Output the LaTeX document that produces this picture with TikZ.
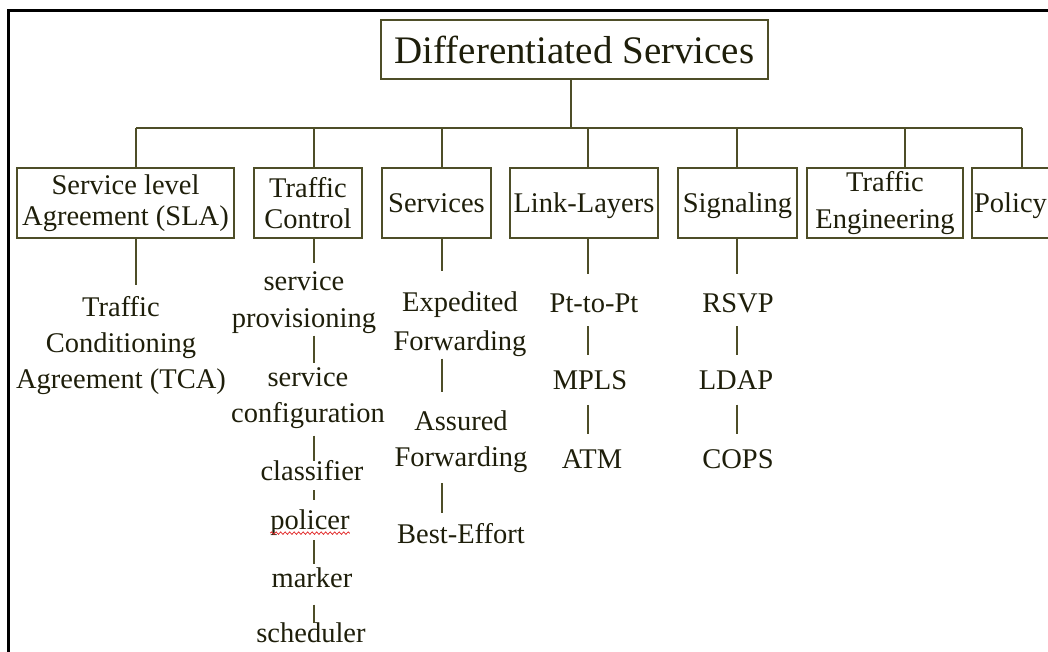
\documentclass[tikz,border=0pt]{standalone}
\usepackage{fontspec}
\setmainfont{Liberation Serif}
\usetikzlibrary{decorations.pathmorphing}
\definecolor{ink}{RGB}{30,30,10}
\definecolor{rule}{RGB}{78,78,40}
\definecolor{spell}{RGB}{225,40,40}

\begin{document}
\begin{tikzpicture}[x=1pt,y=-1pt,
  box/.style={draw=rule, line width=1.8pt, text=ink, inner sep=0pt, align=center,
    minimum height=70pt, font=\fontsize{28.5}{31}\selectfont},
  oneline/.style={text height=19pt, text depth=0pt},
  leaf/.style={text=ink, inner sep=0pt, align=center, font=\fontsize{28.5}{37}\selectfont},
  link/.style={draw=rule, line width=1.8pt},
  frame/.style={draw=black, line width=3pt}]

\useasboundingbox (0,0) rectangle (1048,652);
\clip (0,0) rectangle (1048,652);

% outer frame (top and left edges)
\draw[frame] (8,652) -- (8,11) -- (1060,11);

% root
\node[box, minimum width=387pt, minimum height=59pt, font=\fontsize{39}{41}\selectfont]
  (root) at (574.5,49.5) {Differentiated Services};

% second level boxes
\node[box, minimum width=217pt] (sla) at (125.5,203) {Service level\\Agreement (SLA)};
\node[box, minimum width=108pt] (tc)  at (308,203)   {Traffic\\Control};
\node[box, oneline, minimum width=109pt] (svc) at (436.5,203) {Services};
\node[box, oneline, minimum width=148pt] (ll)  at (584,203)   {Link-Layers};
\node[box, oneline, minimum width=119pt] (sig) at (737.5,203) {Signaling};
\node[box, minimum width=156pt, font=\fontsize{28.5}{37}\selectfont] (te) at (885,203) {Traffic\\Engineering};
\node[box, oneline, minimum width=77pt]  (pol) at (1010.5,203) {Policy};

% bus and drops
\coordinate (j0)   at (571,128);
\coordinate (bsla) at (136,128);
\coordinate (btc)  at (314,128);
\coordinate (bsvc) at (442,128);
\coordinate (bll)  at (588,128);
\coordinate (bsig) at (737,128);
\coordinate (bte)  at (905,128);
\coordinate (bpol) at (1022,128);

\draw[link] (root.south -| j0) -- (j0);
\draw[link] (bsla) -- (bpol);
\foreach \b/\n in {bsla/sla, btc/tc, bsvc/svc, bll/ll, bsig/sig, bte/te, bpol/pol}
  \draw[link] (\b) -- (\b |- \n.north);

% SLA column
\node[leaf, font=\fontsize{28.5}{36}\selectfont] (tca) at (121,346) {Traffic\\Conditioning\\Agreement (TCA)};
\draw[link, shorten >=12pt] (sla.south -| bsla) -- (bsla |- tca.north);

% Traffic Control column
\node[leaf] (sp)  at (304,302.5) {service\\provisioning};
\node[leaf, font=\fontsize{28.5}{36}\selectfont] (sc)  at (308,398) {service\\configuration};
\node[leaf] (cls) at (312,471)   {classifier};
\node[leaf] (plc) at (310,523)   {policer};
\node[leaf] (mkr) at (312,577.5) {marker};
\node[leaf] (sch) at (311,633)   {scheduler};
\draw[spell, line width=0.8pt, decorate, decoration={snake, amplitude=1.2pt, segment length=4.5pt}]
  ([yshift=3pt]plc.south west) -- ([yshift=3pt]plc.south east);

\draw[link, shorten >=8pt] (tc.south -| btc) -- (btc |- sp.north);
\draw[link, shorten <=2pt, shorten >=4pt] (btc |- sp.south) -- (btc |- sc.north);
\draw[link, shorten <=7pt, shorten >=0pt] (btc |- sc.south) -- (btc |- cls.north);
\draw[link, shorten <=9pt, shorten >=10pt] (btc |- cls.south) -- (btc |- plc.north);
\draw[link, shorten <=4pt, shorten >=3pt] (btc |- plc.south) -- (btc |- mkr.north);
\draw[link, shorten <=17pt, shorten >=0pt] (btc |- mkr.south) -- (btc |- sch.north);

% Services column
\node[leaf, font=\fontsize{28.5}{39}\selectfont] (ef) at (460,324) {Expedited\\Forwarding};
\node[leaf, font=\fontsize{28.5}{36}\selectfont] (af) at (461,442) {Assured\\Forwarding};
\node[leaf] (be) at (461,534) {Best-Effort};
\draw[link, shorten >=20pt] (svc.south -| bsvc) -- (bsvc |- ef.north);
\draw[link, shorten <=2pt, shorten >=19pt] (bsvc |- ef.south) -- (bsvc |- af.north);
\draw[link, shorten <=10pt, shorten >=11pt] (bsvc |- af.south) -- (bsvc |- be.north);

% Link-Layers column
\node[leaf] (ptp)  at (594,303.5) {Pt-to-Pt};
\node[leaf] (mpls) at (590,380)   {MPLS};
\node[leaf] (atm)  at (592,459)   {ATM};
\draw[link, shorten >=20pt] (ll.south -| bll) -- (bll |- ptp.north);
\draw[link, shorten <=13pt, shorten >=15pt] (bll |- ptp.south) -- (bll |- mpls.north);
\draw[link, shorten <=15pt, shorten >=15pt] (bll |- mpls.south) -- (bll |- atm.north);

% Signaling column
\node[leaf] (rsvp) at (738,303.5) {RSVP};
\node[leaf] (ldap) at (736,380)   {LDAP};
\node[leaf] (cops) at (738,459)   {COPS};
\draw[link, shorten >=20pt] (sig.south -| bsig) -- (bsig |- rsvp.north);
\draw[link, shorten <=13pt, shorten >=15pt] (bsig |- rsvp.south) -- (bsig |- ldap.north);
\draw[link, shorten <=15pt, shorten >=15pt] (bsig |- ldap.south) -- (bsig |- cops.north);
\end{tikzpicture}
\end{document}
